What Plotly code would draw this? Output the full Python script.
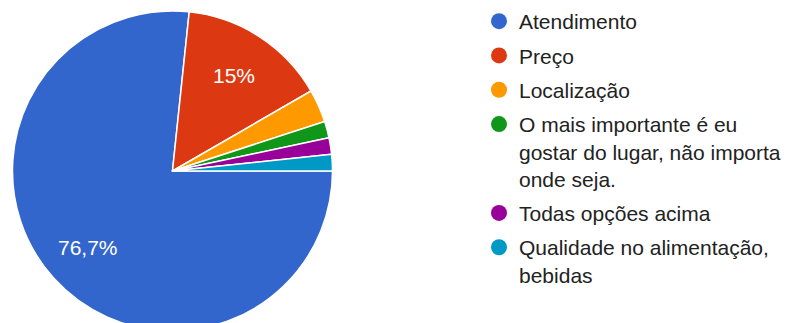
import math
import plotly.graph_objects as go

# Survey answers (60 responses)
categories = [
    "Atendimento",
    "Preço",
    "Localização",
    "O mais importante é eu<br>gostar do lugar, não importa<br>onde seja.",
    "Todas opções acima",
    "Qualidade no alimentação,<br>bebidas",
]
counts = [46, 9, 2, 1, 1, 1]
slice_labels = ["76,7%", "15%", "", "", "", ""]
colors = ["#3366cc", "#dc3912", "#ff9900", "#109618", "#990099", "#0099c6"]

W, H = 790, 344
cx, cy, r = 172.5, 171, 160
start_deg = 90  # first slice starts at 3 o'clock, going clockwise
label_radius = 0.71
FONT = "Arial, Liberation Sans, sans-serif"

fig = go.Figure()
fig.add_trace(go.Pie(
    labels=categories,
    values=counts,
    textinfo="none",
    marker=dict(colors=colors, line=dict(color="white", width=1.5)),
    sort=False,
    direction="clockwise",
    rotation=start_deg,
    showlegend=False,
    hoverinfo="label+percent",
    domain=dict(x=[(cx - r) / W, (cx + r) / W],
                y=[(H - cy - r) / H, (H - cy + r) / H]),
))

# Percentage labels placed at the middle angle of each slice
total = sum(counts)
acc = 0
for v, lab in zip(counts, slice_labels):
    mid = start_deg + 360 * (acc + v / 2) / total
    acc += v
    if not lab:
        continue
    a = math.radians(mid)
    px = cx + label_radius * r * math.sin(a)
    py = cy - label_radius * r * math.cos(a)
    fig.add_annotation(
        x=px / W, y=1 - py / H, xref="paper", yref="paper",
        xanchor="center", yanchor="middle",
        text=lab, showarrow=False,
        font=dict(color="white", size=21, family=FONT),
    )

# Legend entries with round markers
for i, (name, col) in enumerate(zip(categories, colors)):
    fig.add_trace(go.Scatter(
        x=[None], y=[None], mode="markers", name=name,
        legendgroup=str(i),
        marker=dict(symbol="circle", size=16, color=col),
    ))

fig.update_layout(
    width=W, height=H,
    margin=dict(l=0, r=0, t=0, b=0),
    paper_bgcolor="white", plot_bgcolor="white",
    xaxis=dict(visible=False), yaxis=dict(visible=False),
    font=dict(family=FONT, size=21, color="#222222"),
    legend=dict(
        x=479 / W, xanchor="left",
        y=1 - 1 / H, yanchor="top",
        valign="top",
        traceorder="grouped",
        tracegroupgap=4,
        font=dict(size=21, color="#222222", family=FONT),
        bgcolor="rgba(0,0,0,0)",
    ),
)

fig.write_html(
    "out.html",
    post_script="document.body.style.margin='0';document.body.style.overflow='hidden';"
                "document.documentElement.style.overflow='hidden';",
)
